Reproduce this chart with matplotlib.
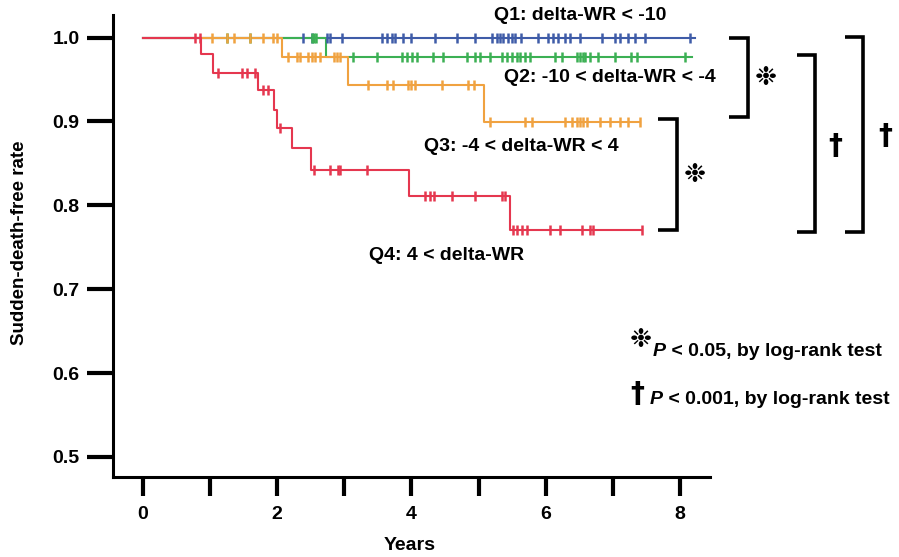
import numpy as np
import matplotlib
matplotlib.use('Agg')
from matplotlib import pyplot as plt
from matplotlib.lines import Line2D

# Kaplan-Meier data (years, survival after each drop)
q1_drops = []
q1_surv = []
q1_end = 8.23
q1_censor = [2.39, 2.52, 2.74, 2.78, 2.96, 3.56, 3.63, 3.71, 3.76, 3.88, 4.0,
             4.35, 4.68, 4.95, 5.2, 5.27, 5.32, 5.37, 5.44, 5.5, 5.54, 5.64,
             5.89, 6.04, 6.11, 6.19, 6.29, 6.36, 6.51, 6.84, 7.03, 7.11, 7.23,
             7.33, 7.48, 8.15]

q2_drops = [2.73]
q2_surv = [0.977]
q2_end = 8.18
q2_censor = [1.25, 1.6, 2.52, 2.55, 2.58, 3.13, 3.49, 3.86, 3.93, 4.01, 4.08,
             4.32, 4.47, 4.83, 4.95, 5.02, 5.17, 5.35, 5.42, 5.5, 5.57, 5.62,
             5.69, 5.77, 6.14, 6.24, 6.47, 6.51, 6.55, 6.59, 6.66, 6.78, 7.03,
             7.28, 7.36, 8.08]

q3_drops = [2.07, 3.06, 5.08]
q3_surv = [0.977, 0.943, 0.899]
q3_end = 7.41
q3_censor = [1.03, 1.25, 1.35, 1.6, 1.79, 1.94, 2.0, 2.16, 2.29, 2.34, 2.46,
             2.52, 2.56, 2.64, 2.84, 2.89, 2.93, 3.35, 3.63, 3.73, 3.95, 3.99,
             4.05, 4.46, 4.84, 4.93, 5.17, 5.69, 5.8, 6.29, 6.39, 6.47, 6.51,
             6.55, 6.62, 6.81, 6.96, 7.11, 7.23, 7.41]

q4_drops = [0.86, 1.04, 1.71, 1.95, 1.99, 2.22, 2.50, 3.96, 5.47]
q4_surv = [0.980, 0.958, 0.938, 0.914, 0.892, 0.868, 0.842, 0.811, 0.770]
q4_end = 7.44
q4_censor = [0.77, 0.85, 1.12, 1.47, 1.55, 1.67, 1.79, 1.86, 2.04, 2.55, 2.79,
             2.9, 2.94, 3.34, 4.2, 4.28, 4.33, 4.6, 4.95, 5.35, 5.4, 5.52, 5.57,
             5.65, 5.72, 6.07, 6.21, 6.54, 6.66, 6.71, 7.44]

labels = ['Q1: delta-WR < -10', 'Q2: -10 < delta-WR < -4',
          'Q3: -4 < delta-WR < 4', 'Q4: 4 < delta-WR']
colors = ['#3f5ca8', '#3cb054', '#f0a240', '#e5374f']

W, H = 899, 557
FONT = 'Liberation Sans'
FS = 14


def fxy(px, py):
    return px / W, 1 - py / H


def km_plot(ax, drops, surv, end, censor, color):
    t = [0.0] + list(drops) + [end]
    s = [1.0] + list(surv) + [surv[-1] if surv else 1.0]
    ax.step(t, s, where='post', color=color, lw=1.5, zorder=2)
    c = np.array(censor)
    idx = np.searchsorted(np.array(t), c, side='right') - 1
    cy = np.array(s)[idx]
    ax.plot(c, cy, ls='none', marker='|', ms=7, mew=1.8, color=color, zorder=3)


fig = plt.figure(figsize=(W / 100, H / 100), dpi=100)
ax = fig.add_axes([113 / W, 80 / H, (710 - 113) / W, (477 - 15) / H])

km_plot(ax, q1_drops, q1_surv, q1_end, q1_censor, colors[0])
km_plot(ax, q2_drops, q2_surv, q2_end, q2_censor, colors[1])
km_plot(ax, q3_drops, q3_surv, q3_end, q3_censor, colors[2])
km_plot(ax, q4_drops, q4_surv, q4_end, q4_censor, colors[3])

ax.set_xlim(-0.447, 8.45)
ax.set_ylim(0.476, 1.027)
ax.spines['top'].set_visible(False)
ax.spines['right'].set_visible(False)
ax.spines['left'].set_linewidth(2.2)
ax.spines['bottom'].set_linewidth(2.2)

ax.set_yticks([0.5, 0.6, 0.7, 0.8, 0.9, 1.0])
ax.set_yticklabels(['0.5', '0.6', '0.7', '0.8', '0.9', '1.0'])
ax.set_xticks([0, 2, 4, 6, 8])
ax.set_xticks([1, 3, 5, 7], minor=True)
ax.tick_params(axis='y', length=19, width=3, pad=5, labelsize=FS)
ax.tick_params(axis='x', which='both', length=14, width=3, pad=7, labelsize=FS)
for lab in ax.get_xticklabels() + ax.get_yticklabels():
    lab.set_fontweight('bold')
    lab.set_family(FONT)

fig.text(*fxy(410, 545), 'Years', ha='center', va='center',
         fontsize=FS, fontweight='bold', family=FONT)
fig.text(*fxy(20, 243), 'Sudden-death-free rate', ha='center', va='center',
         rotation=90, fontsize=13.5, fontweight='bold', family=FONT)

# group labels
lab_pos = [(580, 15), (610, 78), (521, 147), (447, 256)]
for (px, py), lab in zip(lab_pos, labels):
    fig.text(*fxy(px, py), lab, ha='center', va='center', fontsize=FS,
             fontweight='bold', family=FONT)

# significance brackets (pixel layout)
brackets = [(729, 748, 38, 117), (658, 677, 119, 230),
            (797, 815, 55, 232), (845, 863, 37, 232)]
for x0, x1, y0, y1 in brackets:
    xs = [x0, x1, x1, x0]
    ys = [y0, y0, y1, y1]
    fx = [x / W for x in xs]
    fy = [1 - y / H for y in ys]
    fig.add_artist(Line2D(fx, fy, color='black', lw=2.6,
                          solid_joinstyle='miter', solid_capstyle='butt'))

star = '\u2749'
fig.text(*fxy(766, 78), star, ha='center', va='center', fontsize=19,
         family='DejaVu Sans')
fig.text(*fxy(695, 175), star, ha='center', va='center', fontsize=19,
         family='DejaVu Sans')
fig.text(*fxy(835, 146), '\u2020', ha='center', va='center', fontsize=20,
         fontweight='bold', family='DejaVu Sans')
fig.text(*fxy(885, 136), '\u2020', ha='center', va='center', fontsize=20,
         fontweight='bold', family='DejaVu Sans')

# p-value notes
fig.text(*fxy(641, 340), star, ha='center', va='center', fontsize=19,
         family='DejaVu Sans')
fig.text(*fxy(637, 394), '\u2020', ha='center', va='center', fontsize=20,
         fontweight='bold', family='DejaVu Sans')
renderer = fig.canvas.get_renderer()
for py, rest, px in [(352, ' < 0.05, by log-rank test', 653),
                     (400, ' < 0.001, by log-rank test', 650)]:
    p = fig.text(*fxy(px, py), 'P', ha='left', va='center', fontsize=FS,
                 fontweight='bold', fontstyle='italic', family=FONT)
    bb = p.get_window_extent(renderer)
    fig.text(bb.x1 / W, 1 - py / H, rest, ha='left', va='center',
             fontsize=FS, fontweight='bold', family=FONT)

fig.savefig('out.png', dpi=100)
